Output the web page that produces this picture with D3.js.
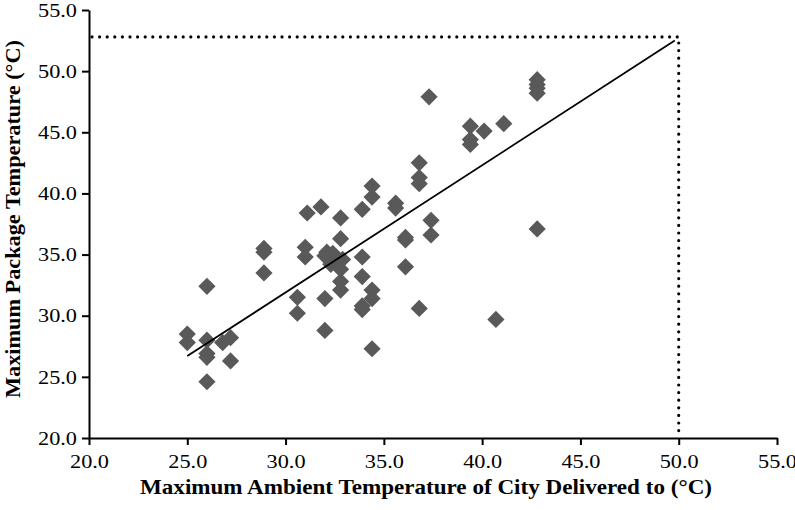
<!DOCTYPE html>
<html>
<head>
<meta charset="utf-8">
<script src="https://cdn.jsdelivr.net/npm/d3@7"></script>
<style>
  body { margin: 0; background: #fff; }
  svg { display: block; }
  .axis text { font-family: 'Liberation Serif', 'Times New Roman', serif; font-size: 19.5px; fill: #000; }
  .axis path, .axis line { stroke: #000; stroke-width: 2; }
  .title { font-family: 'Liberation Serif', 'Times New Roman', serif; font-weight: bold; }
</style>
</head>
<body>
<svg id="chart" width="795" height="510"></svg>
<script>
// ambient (x) vs package (y) temperatures
const ambientTemp = [
  25.0, 25.0, 26.0, 26.0, 26.0, 26.0, 26.0, 26.8, 27.2, 27.2,
  28.9, 28.9, 28.9, 30.6, 30.6, 31.0, 31.0, 31.1, 31.8, 32.0,
  32.0, 32.0, 32.1, 32.4, 32.3, 32.6, 32.8, 32.9, 32.8, 32.8,
  32.8, 32.8, 33.9, 33.9, 33.9, 33.9, 33.9, 34.4, 34.4, 34.4,
  34.4, 34.4, 35.6, 35.6, 36.1, 36.1, 36.1, 36.8, 36.8, 36.8,
  36.8, 37.3, 37.4, 37.4, 39.4, 39.4, 39.4, 40.1, 40.7, 41.1,
  42.8, 42.8, 42.8, 42.8, 42.8,
];
const packageTemp = [
  28.5, 27.8, 32.4, 28.0, 26.9, 26.6, 24.6, 27.8, 28.2, 26.3,
  35.5, 35.2, 33.5, 31.5, 30.2, 35.6, 34.8, 38.4, 38.9, 31.4,
  28.8, 34.9, 35.2, 35.1, 34.2, 34.3, 33.8, 34.6, 36.3, 38.0,
  32.8, 32.1, 38.7, 34.8, 33.2, 30.8, 30.5, 40.6, 39.7, 32.1,
  31.4, 27.3, 39.2, 38.8, 36.4, 36.2, 34.0, 42.5, 41.3, 40.8,
  30.6, 47.9, 37.8, 36.6, 45.5, 44.4, 44.0, 45.1, 29.7, 45.7,
  49.3, 48.9, 48.6, 48.2, 37.1,
];

// linear trend line end points
const trendX = [25.0, 49.8];
const trendY = [26.7, 52.5];

// dotted limit box
const limitX = 50.0;
const limitY = 52.8;

const xTicks = [20, 25, 30, 35, 40, 45, 50, 55];
const yTicks = [20, 25, 30, 35, 40, 45, 50, 55];

const margin = { top: 10, right: 18, bottom: 72, left: 89 };
const width = 795;
const height = 510;

const svg = d3.select('#chart');

const xScale = d3.scaleLinear()
  .domain([20, 55])
  .range([margin.left, width - margin.right]);

const yScale = d3.scaleLinear()
  .domain([20, 55])
  .range([height - margin.bottom, margin.top]);

const xAxis = d3.axisBottom(xScale)
  .tickValues(xTicks)
  .tickSize(7)
  .tickSizeOuter(0)
  .tickPadding(9)
  .tickFormat(d3.format('.1f'));

const yAxis = d3.axisLeft(yScale)
  .tickValues(yTicks)
  .tickSize(7)
  .tickSizeOuter(0)
  .tickPadding(5)
  .tickFormat(d3.format('.1f'));

const toLine = d3.line()
  .x(d => xScale(d[0]))
  .y(d => yScale(d[1]));

// dotted limit lines
svg.append('path')
  .datum([[20, limitY], [limitX, limitY], [limitX, 20]])
  .attr('d', toLine)
  .attr('fill', 'none')
  .attr('stroke', '#000')
  .attr('stroke-width', 3.2)
  .attr('stroke-linecap', 'round')
  .attr('stroke-dasharray', '0 7.6')
  .attr('stroke-dashoffset', -3);

const points = ambientTemp.map((x, i) => ({ x, y: packageTemp[i] }));
const diamond = d3.symbol().type(d3.symbolSquare).size(148);

svg.append('g')
  .selectAll('path')
  .data(points)
  .enter()
  .append('path')
  .attr('d', diamond)
  .attr('transform', d => `translate(${xScale(d.x)},${yScale(d.y)}) rotate(45)`)
  .attr('fill', '#595959');

svg.append('path')
  .datum(trendX.map((x, i) => [x, trendY[i]]))
  .attr('d', toLine)
  .attr('fill', 'none')
  .attr('stroke', '#000')
  .attr('stroke-width', 1.8);

const gX = svg.append('g')
  .attr('class', 'axis')
  .attr('transform', `translate(0,${height - margin.bottom})`)
  .call(xAxis);

const gY = svg.append('g')
  .attr('class', 'axis')
  .attr('transform', `translate(${margin.left},0)`)
  .call(yAxis);

// the source labels are set wide, stretch them a little
gX.selectAll('text').attr('textLength', 39).attr('lengthAdjust', 'spacingAndGlyphs');
gY.selectAll('text').attr('textLength', 39).attr('lengthAdjust', 'spacingAndGlyphs');

svg.append('text')
  .attr('class', 'title')
  .attr('x', 426)
  .attr('y', 494)
  .attr('text-anchor', 'middle')
  .style('font-size', '22px')
  .attr('textLength', 572)
  .attr('lengthAdjust', 'spacingAndGlyphs')
  .text('Maximum Ambient Temperature of City Delivered to (°C)');

svg.append('text')
  .attr('class', 'title')
  .attr('transform', 'translate(20,219) rotate(-90)')
  .attr('text-anchor', 'middle')
  .style('font-size', '22px')
  .attr('textLength', 358)
  .attr('lengthAdjust', 'spacingAndGlyphs')
  .text('Maximum Package Temperature (°C)');
</script>
</body>
</html>
